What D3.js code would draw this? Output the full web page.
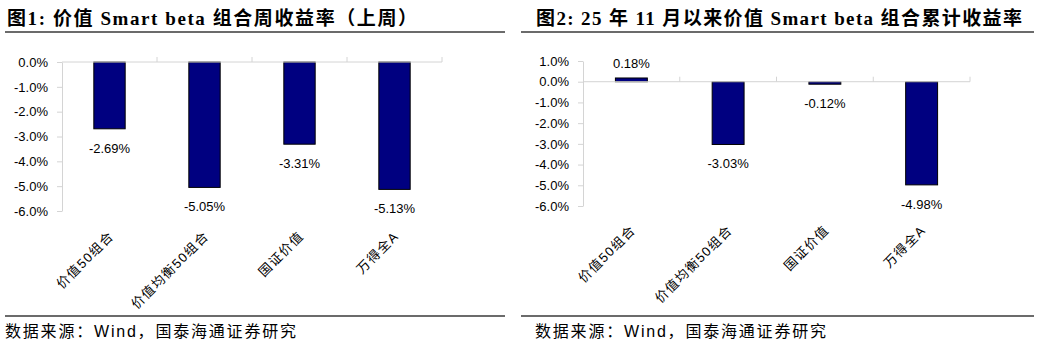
<!DOCTYPE html>
<html lang="zh">
	<head>
		<meta charset="utf-8">
		<title>价值 Smart beta 组合收益率</title>
		<script src="https://d3js.org/d3.v7.min.js" charset="utf-8"></script>
		<style type="text/css">
			body { margin: 0; background: #fff; }
			svg text { font-family: "Liberation Sans", "Noto Sans CJK SC", sans-serif; }
			.title text { font-family: "Liberation Serif", "Noto Sans CJK SC", serif; font-weight: bold; }
			.yAxis path, .yAxis line { stroke: #d4d4d4; }
			.yAxis text { font-size: 13px; fill: #000; }
		</style>
	</head>
	<body>
		<script type="text/javascript">

			// Data
			var categories = ["价值50组合", "价值均衡50组合", "国证价值", "万得全A"];
			var weeklyReturns = [-2.69, -5.05, -3.31, -5.13];
			var cumulativeReturns = [0.18, -3.03, -0.12, -4.98];
			var weeklyTicks = [0, -1, -2, -3, -4, -5, -6];
			var cumulativeTicks = [1, 0, -1, -2, -3, -4, -5, -6];
			var titles = ["图1:  价值 Smart beta 组合周收益率（上周）", "图2:  25 年 11 月以来价值 Smart beta 组合累计收益率"];
			var source = "数据来源：Wind，国泰海通证券研究";

			var w = 1039, h = 346;

			var svg = d3.select("body")
						.append("svg")
						.attr("width", w)
						.attr("height", h);

			// One panel per chart
			var panels = [
				{ title: titles[0], values: weeklyReturns, ticks: weeklyTicks,
				  lineX: [5, 505], titleX: 7, titleW: 410, sourceX: 5,
				  plotX: [62, 442], plotY: [62, 211], labelDy: 24 },
				{ title: titles[1], values: cumulativeReturns, ticks: cumulativeTicks,
				  lineX: [521, 1034], titleX: 536, titleW: 486, sourceX: 535,
				  plotX: [583, 970], plotY: [61, 206], labelDy: 23 }
			];

			panels.forEach(function(p) {
				var g = svg.append("g");

				// Title and rules
				g.append("g").attr("class", "title")
					.append("text")
					.attr("x", p.titleX)
					.attr("y", 25)
					.attr("textLength", p.titleW)
					.attr("lengthAdjust", "spacing")
					.style("font-size", "19px")
					.text(p.title);

				g.append("line")
					.attr("x1", p.lineX[0]).attr("x2", p.lineX[1])
					.attr("y1", 32).attr("y2", 32)
					.attr("stroke", "#3a3a3a").attr("stroke-width", 1.7);

				g.append("line")
					.attr("x1", p.lineX[0]).attr("x2", p.lineX[1])
					.attr("y1", 316).attr("y2", 316)
					.attr("stroke", "#3a3a3a").attr("stroke-width", 1.7);

				g.append("text")
					.attr("x", p.sourceX)
					.attr("y", 337)
					.attr("textLength", 291)
					.attr("lengthAdjust", "spacing")
					.style("font-size", "16px")
					.text(source);

				// Scales
				var xScale = d3.scaleBand()
					.domain(categories)
					.range(p.plotX);
				var yScale = d3.scaleLinear()
					.domain([d3.max(p.ticks), d3.min(p.ticks)])
					.range(p.plotY);
				var barW = xScale.step() * 0.33;

				// Y axis
				g.append("g")
					.attr("class", "yAxis")
					.attr("transform", "translate(" + p.plotX[0] + ",0)")
					.call(d3.axisLeft(yScale)
						.tickValues(p.ticks)
						.tickSize(5)
						.tickSizeOuter(0)
						.tickPadding(9)
						.tickFormat(function(d) { return d.toFixed(1) + "%"; }));

				// Bars
				g.selectAll(".bar")
					.data(p.values)
					.enter()
					.append("rect")
					.attr("class", "bar")
					.attr("x", function(d, i) { return xScale(categories[i]) + (xScale.step() - barW) / 2; })
					.attr("y", function(d) { return yScale(Math.max(0, d)); })
					.attr("width", barW)
					.attr("height", function(d) { return Math.abs(yScale(d) - yScale(0)); })
					.attr("fill", "#000080")
					.attr("stroke", "#000")
					.attr("stroke-width", 1);

				// Category axis at zero
				var zeroY = yScale(0);
				g.append("line")
					.attr("x1", p.plotX[0]).attr("x2", p.plotX[1])
					.attr("y1", zeroY).attr("y2", zeroY)
					.attr("stroke", "#d4d4d4");
				var bounds = categories.map(function(c) { return xScale(c); }).concat([p.plotX[1]]);
				g.selectAll(".catTick")
					.data(bounds.slice(1))
					.enter()
					.append("line")
					.attr("x1", function(d) { return d; }).attr("x2", function(d) { return d; })
					.attr("y1", zeroY - 5).attr("y2", zeroY)
					.attr("stroke", "#d4d4d4");

				// Value labels
				g.selectAll(".valueLabel")
					.data(p.values)
					.enter()
					.append("text")
					.attr("x", function(d, i) { return xScale(categories[i]) + xScale.step() / 2; })
					.attr("y", function(d) { return d < 0 ? yScale(d) + 24 : yScale(d) - 10; })
					.attr("text-anchor", "middle")
					.style("font-size", "13px")
					.text(function(d) { return d.toFixed(2) + "%"; });

				// Category labels, rotated
				g.selectAll(".catLabel")
					.data(categories)
					.enter()
					.append("text")
					.attr("text-anchor", "end")
					.attr("transform", function(d) {
						return "translate(" + (xScale(d) + xScale.step() / 2 + 5) + "," + (p.plotY[1] + p.labelDy + 2) + ") rotate(-45)";
					})
					.style("font-size", "13px")
					.style("letter-spacing", "1.3px")
					.text(function(d) { return d; });
			});

		</script>
	</body>
</html>
